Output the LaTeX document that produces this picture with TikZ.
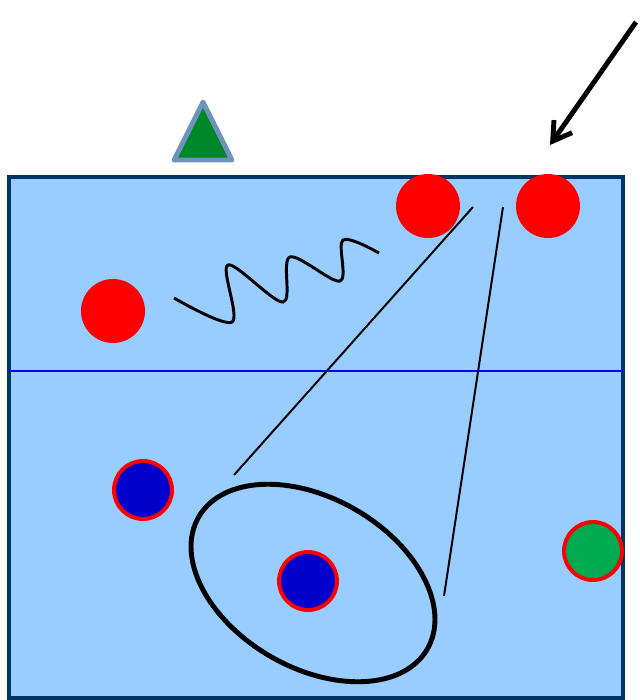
\documentclass[tikz,border=0pt]{standalone}
\usetikzlibrary{arrows.meta}
\definecolor{poolblue}{RGB}{153,204,255}
\definecolor{pooledge}{RGB}{0,51,102}
\definecolor{capblue}{RGB}{0,0,204}
\definecolor{capgreen}{RGB}{0,170,80}
\definecolor{markgreen}{RGB}{0,136,40}
\definecolor{markrim}{RGB}{112,146,190}
\begin{document}
\begin{tikzpicture}[x=0.025cm, y=-0.025cm,
    attacker/.style={circle, fill=red, inner sep=0pt, minimum size=1.6cm},
    defender/.style={circle, fill=capblue, draw=red, line width=2.8pt, inner sep=0pt, minimum size=1.45cm},
    keeper/.style={defender, fill=capgreen},
    sightline/.style={line width=1.4pt}]
    \useasboundingbox (0,0) rectangle (640,700);
    % pool and half line
    \draw[pooledge, fill=poolblue, line width=2.8pt] (9,177) rectangle (623,698);
    \draw[blue, line width=1.4pt] (9,371) -- (623,371);
    % referee mark
    \draw[markrim, fill=markgreen, line width=3.5pt, line join=round] (203,102) -- (232,160) -- (174,160) -- cycle;
    % players
    \node[attacker] (a1) at (428,206) {};
    \node[attacker] (a2) at (548,206) {};
    \node[attacker] (a3) at (113,311) {};
    \node[defender] (d1) at (143,490) {};
    \node[defender] (d2) at (308,581) {};
    \node[keeper] (k) at (593,551) {};
    % pass
    \coordinate (from) at (636,22);
    \coordinate (to) at (550,145);
    \draw[line width=3.5pt, -{Straight Barb[length=0.45cm, width=0.55cm]}] (from) -- (to);
    % swim path
    \draw[line width=2.1pt, smooth, tension=0.55] plot coordinates {(174,298) (232,322) (228,265) (283,302) (290,257) (340,281) (343,240) (379,253)};
    % view cone
    \coordinate (apexl) at (473,207);
    \coordinate (apexr) at (503,207);
    \coordinate (rimr) at (444,596);
    \coordinate (riml) at (234,475);
    \draw[sightline] (apexl) -- (riml);
    \draw[sightline] (apexr) -- (rimr);
    \draw[line width=3.5pt, rotate around={-30:(313,583)}] (313,583) ellipse [x radius=3.3cm, y radius=2.12cm];
\end{tikzpicture}
\end{document}
